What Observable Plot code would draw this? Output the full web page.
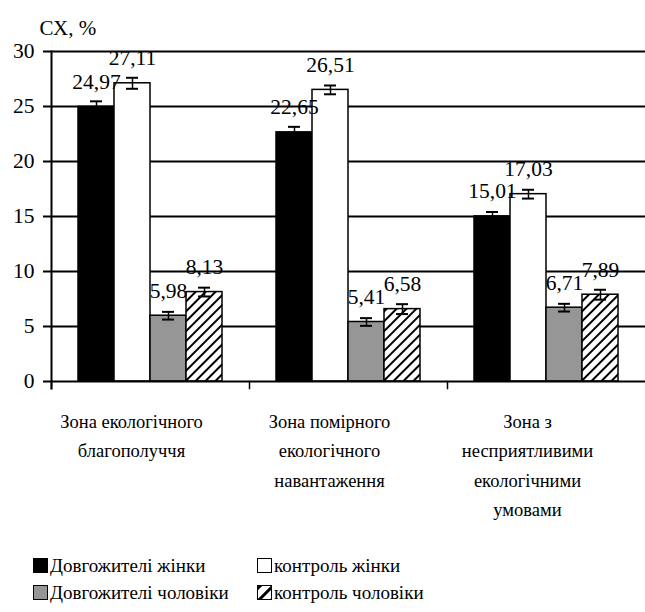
<!DOCTYPE html>
<html>
<head>
<meta charset="utf-8">
<script src="https://cdn.jsdelivr.net/npm/d3@7"></script>
<script src="https://cdn.jsdelivr.net/npm/@observablehq/plot@0.6"></script>
<style>
  html, body { margin: 0; padding: 0; background: #fff; }
  body { width: 645px; height: 612px; overflow: hidden; font-family: 'Liberation Serif', 'DejaVu Serif', 'Times New Roman', serif; }
  svg, svg text { font-family: 'Liberation Serif', 'DejaVu Serif', 'Times New Roman', serif !important; }
  #legend { display: grid; grid-template-columns: 224px 260px; padding-left: 33px; margin-top: 12px; font-size: 19px; color: #000; }
  .item { display: flex; align-items: center; height: 27px; }
  .sw { width: 13px; height: 13px; border: 1px solid #000; margin-right: 2px; box-sizing: content-box; flex: none; }
  .sw svg { display: block; }
</style>
</head>
<body>
<div id="chart"></div>
<div id="legend"></div>
<script>
const zones = ["Зона екологічного\nблагополуччя", "Зона помірного\nекологічного\nнавантаження", "Зона з\nнесприятливими\nекологічними\nумовами"];
const series = ["Довгожителі жінки", "контроль жінки", "Довгожителі чоловіки", "контроль чоловіки"];
const longLivedWomen = [24.97, 22.65, 15.01];
const controlWomen = [27.11, 26.51, 17.03];
const longLivedMen = [5.98, 5.41, 6.71];
const controlMen = [8.13, 6.58, 7.89];
const errLongLivedWomen = [0.5, 0.5, 0.4];
const errControlWomen = [0.5, 0.4, 0.4];
const errLongLivedMen = [0.35, 0.35, 0.35];
const errControlMen = [0.4, 0.45, 0.45];
const yTicks = [0, 5, 10, 15, 20, 25, 30];
const fills = ["#000000", "#ffffff", "#969696", "url(#hatch)"];

const valuesBySeries = [longLivedWomen, controlWomen, longLivedMen, controlMen];
const errBySeries = [errLongLivedWomen, errControlWomen, errLongLivedMen, errControlMen];
const data = [];
zones.forEach((z, i) => series.forEach((s, j) => data.push({zone: z, series: s, value: valuesBySeries[j][i], err: errBySeries[j][i]})));

const font = "'Liberation Serif', 'DejaVu Serif', 'Times New Roman', serif";

const chart = Plot.plot({
  width: 645,
  height: 540,
  marginTop: 51,
  marginBottom: 159,
  marginLeft: 50,
  marginRight: 0,
  style: {fontFamily: font, fontSize: "21px", color: "#000", background: "#fff"},
  fx: {domain: zones, padding: 0, label: null},
  x: {domain: series, paddingInner: 0, paddingOuter: 0.75, axis: null},
  y: {domain: [0, 30], label: null},
  color: {domain: series, range: fills},
  marks: [
    Plot.ruleY(yTicks.filter(d => d > 0), {stroke: "#000", strokeWidth: 2}),
    Plot.barY(data, {fx: "zone", x: "series", y: "value", fill: "series", stroke: "#000", strokeWidth: 1.5}),
    Plot.ruleX(data, {fx: "zone", x: "series", y1: d => d.value - d.err, y2: d => d.value + d.err, stroke: "#000", strokeWidth: 1.5}),
    Plot.tickY(data, {fx: "zone", x: "series", y: d => d.value + d.err, stroke: "#000", strokeWidth: 2, insetLeft: 12, insetRight: 12}),
    Plot.tickY(data, {fx: "zone", x: "series", y: d => d.value - d.err, stroke: "#000", strokeWidth: 2, insetLeft: 12, insetRight: 12}),
    Plot.text(data, {fx: "zone", x: "series", y: "value", text: d => d.value.toFixed(2).replace(".", ","), dy: -25, fontSize: 21.5, fill: "#000"}),
    Plot.ruleY([0], {stroke: "#000", strokeWidth: 2}),
    Plot.frame({anchor: "left", insetTop: 330, insetBottom: -7, stroke: "#000", strokeWidth: 1.5}),
    Plot.frame({anchor: "left", insetBottom: -7, stroke: "#000", strokeWidth: 2, facetAnchor: "left"}),
    Plot.axisY({ticks: yTicks, tickSize: 8, tickPadding: 9, tickFormat: d => String(d), fontSize: 21.5, strokeWidth: 2, label: null}),
    Plot.axisFx({tickSize: 0, tickPadding: 25, lineHeight: 1.6, fontSize: 18.5, dx: -19, label: null, anchor: "bottom"}),
    Plot.text(["СХ, %"], {frameAnchor: "top-left", dx: -12, dy: -31, textAnchor: "start", fontSize: 21, fill: "#000", facetAnchor: "left"})
  ]
});

// hatch pattern definition
const ns = "http://www.w3.org/2000/svg";
function addPattern(svg, id) {
  const defs = document.createElementNS(ns, "defs");
  const p = document.createElementNS(ns, "pattern");
  p.setAttribute("id", id);
  p.setAttribute("patternUnits", "userSpaceOnUse");
  p.setAttribute("width", "7");
  p.setAttribute("height", "7");
  p.setAttribute("patternTransform", "rotate(45)");
  const r = document.createElementNS(ns, "rect");
  r.setAttribute("width", "7"); r.setAttribute("height", "7"); r.setAttribute("fill", "#fff");
  const l = document.createElementNS(ns, "line");
  l.setAttribute("x1", "0"); l.setAttribute("y1", "0"); l.setAttribute("x2", "0"); l.setAttribute("y2", "7");
  l.setAttribute("stroke", "#000"); l.setAttribute("stroke-width", "4");
  p.appendChild(r); p.appendChild(l); defs.appendChild(p);
  svg.insertBefore(defs, svg.firstChild);
}
const svgEl = chart.tagName.toLowerCase() === "svg" ? chart : chart.querySelector("svg");
addPattern(svgEl, "hatch");
document.getElementById("chart").appendChild(chart);

// legend (same order as reference: row-major)
const legend = document.getElementById("legend");
series.forEach((s, j) => {
  const item = document.createElement("div");
  item.className = "item";
  const sw = document.createElement("span");
  sw.className = "sw";
  if (j === 3) {
    sw.innerHTML = '<svg width="13" height="13"><defs><pattern id="hatchL" patternUnits="userSpaceOnUse" width="9" height="9" patternTransform="rotate(45)"><rect width="9" height="9" fill="#fff"/><line x1="0" y1="0" x2="0" y2="9" stroke="#000" stroke-width="6"/></pattern></defs><rect width="13" height="13" fill="url(#hatchL)"/></svg>';
  } else {
    sw.style.background = fills[j];
  }
  item.appendChild(sw);
  const t = document.createElement("span");
  t.textContent = s;
  item.appendChild(t);
  legend.appendChild(item);
});
</script>
</body>
</html>
